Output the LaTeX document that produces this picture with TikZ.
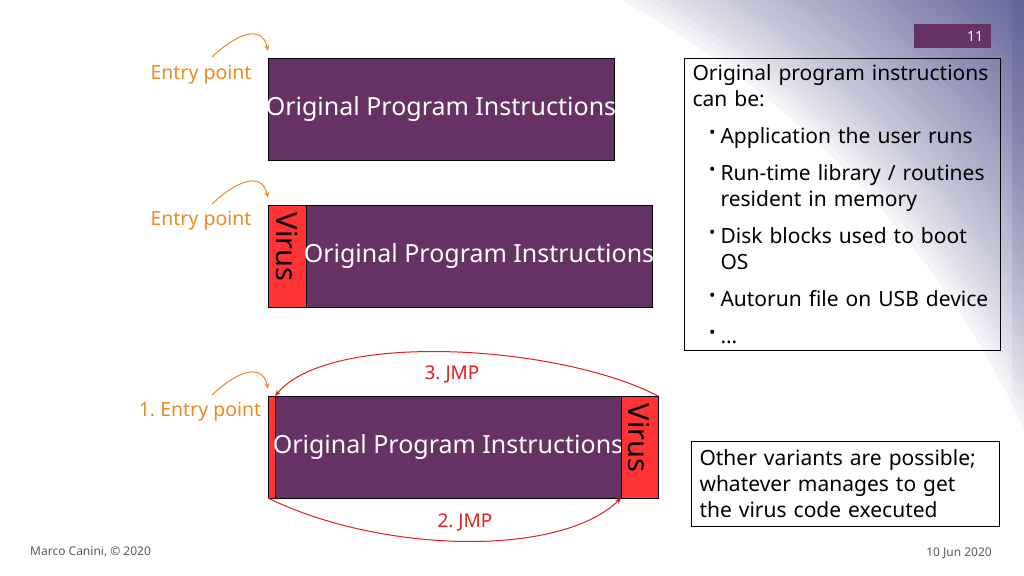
\documentclass[tikz,border=0pt]{standalone}
\usepackage{fontspec}
\setmainfont{Noto Sans}
\frenchspacing
\usetikzlibrary{positioning,arrows.meta}
\definecolor{progpurple}{RGB}{102,50,100}
\definecolor{virusred}{RGB}{255,51,51}
\definecolor{jmpred}{RGB}{228,30,30}
\definecolor{entryorange}{RGB}{237,139,34}
\definecolor{slate}{RGB}{92,92,148}
\definecolor{footgray}{RGB}{90,90,90}
\newcommand{\itm}{\par\vspace{11pt}\leftskip=28pt\noindent\llap{\raisebox{0.5ex}{\fontsize{17}{17}\selectfont\textbullet}\hspace{5pt}}}
\newcommand{\vlabel}{\rotatebox{-90}{Virus\hspace{18pt}}}
\newcommand{\opi}{\makebox[0pt]{Original Program Instructions}}

\begin{document}
\begin{tikzpicture}[x=1pt, y=-1pt,
  prog/.style={draw=black, fill=progpurple, text=white, font=\fontsize{25}{30}\selectfont,
    minimum height=102, inner sep=0pt, outer sep=0pt},
  virus/.style={draw=black, fill=virusred, text=black, font=\fontsize{29}{32}\selectfont,
    minimum height=102, inner sep=0pt, outer sep=0pt},
  entry/.style={text=entryorange, font=\fontsize{19.5}{23}\selectfont},
  entryarrow/.style={draw=entryorange, line width=1pt, -{Stealth[length=6pt,width=5pt]}},
  jmparrow/.style={draw=jmpred, line width=1pt, -{Stealth[length=6pt,width=5pt]}},
  jmplabel/.style={text=jmpred, font=\fontsize{19}{23}\selectfont},
  textbox/.style={draw=black, line width=1pt, align=left, inner xsep=8pt, inner ysep=6.5pt,
    font=\fontsize{21}{26}\selectfont},
  foot/.style={text=footgray, inner sep=0pt, font=\fontsize{12}{14}\selectfont}]
  \useasboundingbox (0,0) rectangle (1024,575);
  \begin{scope}
    \clip (0,0) rectangle (1024,575);
    \foreach \i in {0,...,40} {
      \pgfmathsetmacro\rad{1185-\i*6.3}
      \pgfmathsetmacro\pct{95*(max(\rad-933,0)/253)^0.75}
      \fill[slate!\pct!white] (177,821) circle[radius=\rad];
    }
    \foreach \j in {0,...,19}
      \fill[slate, fill opacity={0.35*(1-\j/20)}] (1012,\j*21) rectangle (1024,\j*21+21);
  \end{scope}

  \node[fill=progpurple, text=white, font=\fontsize{14}{16}\selectfont, anchor=north west,
    minimum height=24, text width=61, inner xsep=8pt, align=right] (pagenum) at (914,24) {11};

  \node[prog, minimum width=346, anchor=north west] (prog1) at (268,58) {\opi};

  \node[virus, minimum width=38, anchor=north west] (virus2) at (268,205) {\vlabel};
  \node[prog, minimum width=346, right=0pt of virus2] (prog2) {\opi};

  \node[virus, minimum width=7, anchor=north west] (strip3) at (268,396) {};
  \node[prog, minimum width=346, right=0pt of strip3] (prog3) {\opi};
  \node[virus, minimum width=37, right=0pt of prog3] (virus3) {\vlabel};

  \node[entry] (ep1) at (201,75) {Entry point};
  \node[entry] (ep2) at (201,221) {Entry point};
  \node[entry] (ep3) at (200,412) {1. Entry point};
  \coordinate (tail1) at (212,57);
  \coordinate (tail2) at (212,204);
  \coordinate (tail3) at (212,395);
  \draw[entryarrow] (tail1) .. controls +(23,-22) and +(-6,-28) .. ([yshift=7pt]prog1.north west);
  \draw[entryarrow] (tail2) .. controls +(23,-22) and +(-6,-28) .. ([yshift=7pt]virus2.north west);
  \draw[entryarrow] (tail3) .. controls +(23,-22) and +(-6,-28) .. ([yshift=7pt]strip3.north west);

  \draw[jmparrow] (virus3.north east) .. controls (560,345) and (330,330) .. (prog3.north west);
  \draw[jmparrow] (strip3.south west) .. controls (380,553) and (560,558) .. (virus3.south west);
  \node[jmplabel] (jmp3) at (452,374) {3. JMP};
  \node[jmplabel] (jmp2) at (465,522) {2. JMP};

  \node[textbox, anchor=north west, text width=300] (kinds) at (684,58) {%
    Original program instructions\\can be:
    \itm Application the user runs
    \itm Run-time library / routines\\resident in memory
    \itm Disk blocks used to boot\\OS
    \itm Autorun file on USB device
    \itm …\par};
  \node[textbox, fill=white, inner ysep=8.5pt, anchor=north west, text width=292] (other) at (691,441) {%
    Other variants are possible;\\whatever manages to get\\the virus code executed};

  \node[foot, anchor=west] (author) at (30,552) {Marco Canini, © 2020};
  \node[foot, anchor=east] (date) at (992,553) {10 Jun 2020};
\end{tikzpicture}
\end{document}
